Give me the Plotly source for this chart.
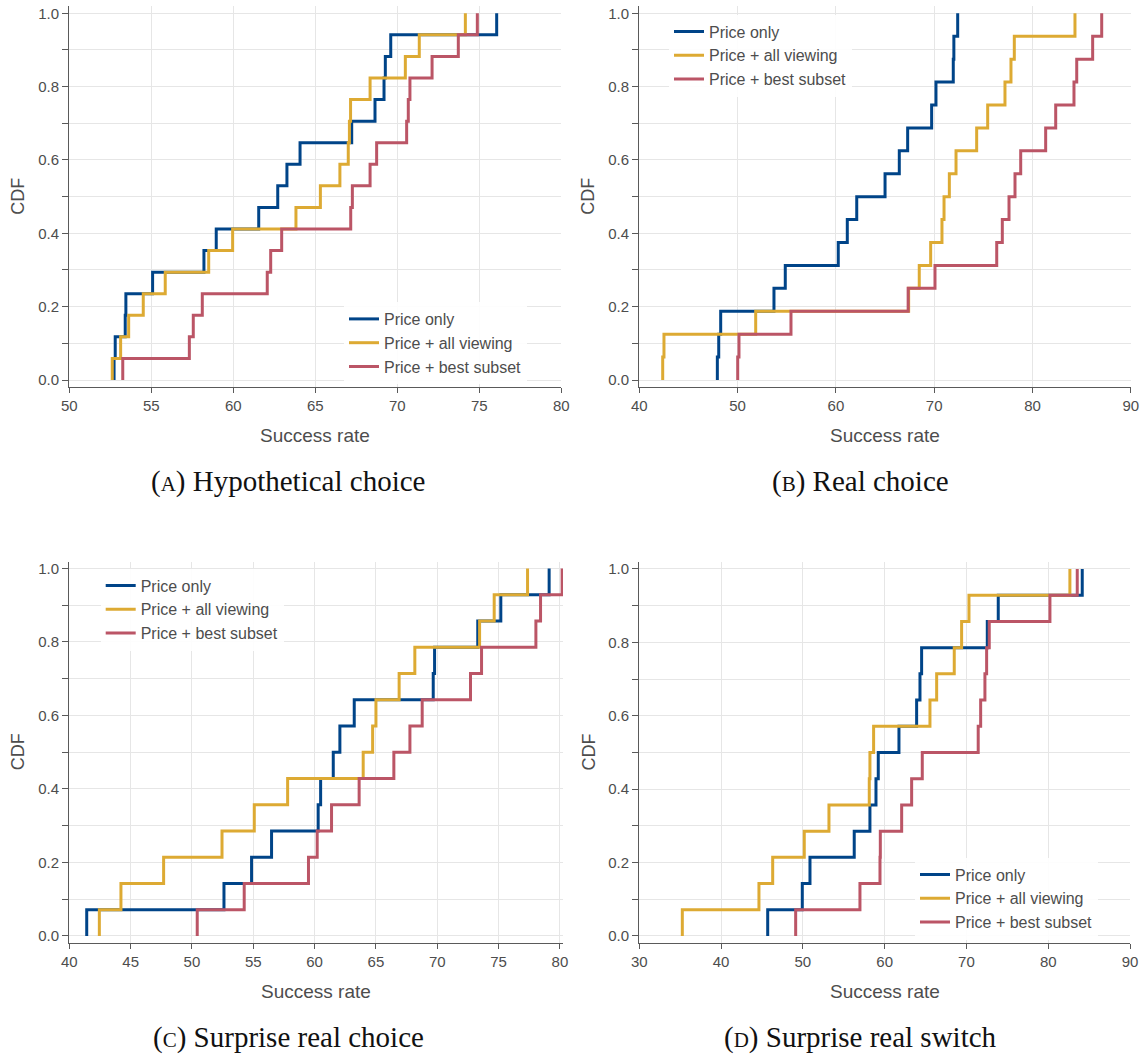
import plotly.graph_objects as go

# ---------------- data (success rates, %) ----------------
series_names = ["Price only", "Price + all viewing", "Price + best subset"]
series_colors = ["#004488", "#DDAA33", "#BB5566"]

hyp_price_only = [52.73, 52.80, 53.41, 53.45, 55.08, 58.21, 58.96, 61.55, 62.71, 63.27, 64.07, 67.22, 68.64, 69.19, 69.27, 69.60, 76.06]
hyp_all_viewing = [52.62, 53.13, 53.62, 54.51, 55.85, 58.50, 59.96, 63.82, 65.31, 66.50, 67.01, 67.08, 67.15, 68.34, 70.49, 71.34, 74.15]
hyp_best_subset = [53.26, 57.32, 57.56, 58.11, 62.07, 62.28, 62.95, 67.16, 67.26, 68.34, 68.74, 70.57, 70.67, 70.77, 72.12, 73.72, 74.88]

real_price_only = [47.94, 48.08, 48.28, 53.70, 54.85, 60.24, 61.16, 62.12, 65.00, 66.45, 67.30, 69.74, 70.18, 71.94, 72.00, 72.39]
real_all_viewing = [42.38, 42.51, 51.84, 67.40, 68.48, 69.64, 70.79, 71.00, 71.54, 72.22, 74.32, 75.44, 77.20, 77.81, 78.15, 84.32]
real_best_subset = [50.01, 50.14, 55.43, 67.35, 70.08, 76.36, 76.93, 77.61, 78.22, 78.80, 81.34, 82.36, 84.22, 84.50, 86.12, 87.04]

surp_choice_price_only = [41.42, 52.61, 54.86, 56.49, 60.29, 60.49, 61.52, 62.06, 63.23, 69.67, 69.78, 73.30, 75.18, 79.12]
surp_choice_all_viewing = [42.45, 44.21, 47.69, 52.45, 55.08, 57.80, 63.96, 64.73, 65.00, 66.89, 68.17, 73.45, 74.64, 77.36]
surp_choice_best_subset = [50.43, 54.26, 59.50, 60.21, 61.38, 63.63, 66.46, 67.77, 68.77, 72.71, 73.61, 78.04, 78.42, 80.18]

surp_switch_price_only = [45.70, 49.93, 50.87, 56.28, 58.20, 58.94, 59.22, 61.75, 63.91, 64.32, 64.52, 72.55, 73.89, 84.16]
surp_switch_all_viewing = [35.26, 44.63, 46.31, 50.17, 53.19, 58.12, 58.20, 58.65, 65.54, 66.36, 68.51, 69.41, 70.31, 82.65]
surp_switch_best_subset = [49.12, 56.98, 59.43, 59.47, 62.08, 63.30, 64.60, 71.44, 71.74, 72.26, 72.47, 72.79, 80.21, 83.55]

captions = ["Hypothetical choice", "Real choice", "Surprise real choice", "Surprise real switch"]
caption_letters = ["A", "B", "C", "D"]
x_ranges = [[50, 80], [40, 90], [40, 80.25], [30, 90]]
x_dticks = [5, 10, 5, 10]

panels_data = [
    [hyp_price_only, hyp_all_viewing, hyp_best_subset],
    [real_price_only, real_all_viewing, real_best_subset],
    [surp_choice_price_only, surp_choice_all_viewing, surp_choice_best_subset],
    [surp_switch_price_only, surp_switch_all_viewing, surp_switch_best_subset],
]

# ---------------- layout geometry (page pixels) ----------------
W, H = 1146, 1057


def px(xp):
    return min(1.0, max(0.0, xp / W))


def py(yp):
    return min(1.0, max(0.0, 1 - yp / H))


# (left px, right px, px of y=0, px of y=1)
geom = [
    (69.3, 561.3, 380.0, 13.3),
    (639.3, 1130.8, 380.0, 13.3),
    (69.3, 563.0, 936.0, 568.5),
    (639.3, 1130.0, 936.0, 569.0),
]
YPAD = 0.019
# legend: left edge x, top edge y (pixels)
legend_pos = [(344, 302), (669, 14.5), (100.7, 568.5), (915, 857.5)]
xtitle_y = [435, 435, 991, 991]
ytitle_x = [18, 588, 18, 588]
caption_pos = [(288, 482), (860, 482), (288, 1037), (860, 1037)]

SANS = "Liberation Sans, Arial, sans-serif"
TICKFONT = dict(family=SANS, size=15, color="#4d4d4d")
GRID = "#e6e6e6"
AXIS = "#5a5a5a"


def ecdf(vals):
    xs = sorted(vals)
    n = len(xs)
    return [xs[0]] + xs, [0.0] + [(i + 1) / n for i in range(n)]


fig = go.Figure()
annotations = []
layout = {}

for p in range(4):
    sfx = "" if p == 0 else str(p + 1)
    leg = "legend" if p == 0 else "legend%d" % (p + 1)
    for s in range(3):
        xs, ys = ecdf(panels_data[p][s])
        fig.add_trace(go.Scatter(
            x=xs, y=ys, mode="lines", line=dict(color=series_colors[s], width=3, shape="hv"),
            name=series_names[s], xaxis="x" + sfx, yaxis="y" + sfx, legend=leg,
            showlegend=True,
        ))
    l, r, y0, y1 = geom[p]
    ppu = y0 - y1
    bottom = y0 + YPAD * ppu
    top = max(y1 - YPAD * ppu, 0.5)
    ylo = -(bottom - y0) / ppu
    yhi = 1 + (y1 - top) / ppu
    layout["xaxis" + sfx] = dict(
        domain=[px(l), px(r)], range=x_ranges[p], anchor="y" + sfx, automargin=False,
        tick0=0, dtick=x_dticks[p], showgrid=True, gridcolor=GRID, gridwidth=1,
        showline=True, linecolor=AXIS, linewidth=1.3, ticks="outside", ticklen=5,
        tickcolor=AXIS, tickfont=TICKFONT, zeroline=False,
    )
    layout["yaxis" + sfx] = dict(
        domain=[py(bottom), py(top)], range=[ylo, yhi], anchor="x" + sfx,
        automargin=False, ticklabeloverflow="allow",
        tick0=0, dtick=0.2, tickformat=".1f", showgrid=True, gridcolor=GRID, gridwidth=1,
        showline=True, linecolor=AXIS, linewidth=1.3, ticks="outside", ticklen=6,
        tickcolor=AXIS, tickfont=TICKFONT, zeroline=False,
        minor=dict(dtick=0.1, tick0=0, ticks="outside", ticklen=6, tickcolor=AXIS,
                   showgrid=True, gridcolor=GRID),
    )
    lx, ly = legend_pos[p]
    layout[leg] = dict(
        x=px(lx), y=py(ly), xanchor="left", yanchor="top",
        bgcolor="rgba(255,255,255,0.92)", borderwidth=0,
        font=dict(family=SANS, size=16, color="#4d4d4d"),
        tracegroupgap=0, itemwidth=30,
    )
    # axis titles
    annotations.append(dict(
        text="Success rate", x=px((l + r) / 2),
        y=py(xtitle_y[p]), xref="paper", yref="paper", showarrow=False,
        xanchor="center", yanchor="middle",
        font=dict(family=SANS, size=19, color="#4d4d4d"),
    ))
    annotations.append(dict(
        text="CDF", x=px(ytitle_x[p]), y=py((y0 + y1) / 2), xref="paper", yref="paper",
        showarrow=False, textangle=-90, xanchor="center", yanchor="middle",
        font=dict(family=SANS, size=18, color="#4d4d4d"),
    ))
    cx, cy = caption_pos[p]
    annotations.append(dict(
        text="(<span style='font-size:21px'>%s</span>) %s" % (caption_letters[p], captions[p]),
        x=px(cx), y=py(cy), xref="paper", yref="paper", showarrow=False,
        xanchor="center", yanchor="middle",
        font=dict(family="Liberation Serif, DejaVu Serif, serif", size=29, color="#111111"),
    ))

fig.update_layout(
    width=W, height=H, margin=dict(l=0, r=0, t=0, b=0),
    paper_bgcolor="white", plot_bgcolor="white",
    annotations=annotations, **layout,
)

fig.write_html(
    "out.html",
    config={"displayModeBar": False},
    post_script="document.body.style.margin='0px';document.body.style.overflow='hidden';",
)
